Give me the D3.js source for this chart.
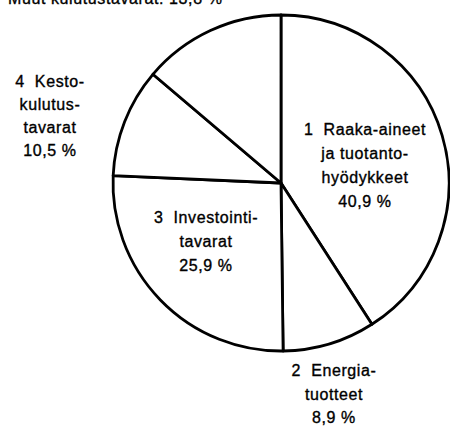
<html>
<script src="https://d3js.org/d3.v7.min.js"></script>
<style>
body{margin:0;background:#fff;}
svg{display:block;}
text{font-family:"Liberation Sans",Arial,sans-serif;font-size:16px;letter-spacing:0.6px;fill:#000;stroke:#000;stroke-width:0.35px;white-space:pre;}
</style>
<body>
<div class="chart"></div>
</body>
<script>
const width = 450;
const height = 426;

// share of each group, clockwise from 12 o'clock
const groups = ['1', '2', '3', '4', '5'];
const shares = [40.9, 8.9, 25.9, 10.5, 13.8];

// label lines for each group
const labelLines = [
  ['1  Raaka-aineet', 'ja tuotanto-', 'hyödykkeet', '40,9 %'],
  ['2  Energia-', 'tuotteet', '8,9 %'],
  ['3  Investointi-', 'tavarat', '25,9 %'],
  ['4  Kesto-', 'kulutus-', 'tavarat', '10,5 %'],
];
const topNote = 'Muut kulutustavarat: 13,8 %';

const cx = 281, cy = 183, radius = 168;

const svg = d3.select('.chart')
  .append('svg')
    .attr('width', width)
    .attr('height', height);

const pie = d3.pie().sort(null).value(d => d.value);
const arc = d3.arc().innerRadius(0).outerRadius(radius);

const slices = pie(groups.map((g, i) => ({group: g, value: shares[i]})));

const g = svg.append('g')
  .attr('transform', `translate(${cx},${cy})`);

g.selectAll('path')
  .data(slices)
  .enter()
  .append('path')
    .attr('d', arc)
    .attr('fill', '#fff')
    .attr('stroke', '#000')
    .attr('stroke-width', 2.8)
    .attr('stroke-linejoin', 'round');

// label placement (centre x, first baseline, line step)
const labelPos = [
  {x: 365, y: 135, step: 24},
  {x: 334, y: 376, step: 23.5},
  {x: 206, y: 223, step: 24},
  {x: 50, y: 87, step: 23},
];

labelLines.forEach((lines, i) => {
  const p = labelPos[i];
  svg.append('text')
    .attr('text-anchor', 'middle')
    .selectAll('tspan')
    .data(lines)
    .enter()
    .append('tspan')
      .attr('x', p.x)
      .attr('y', (d, j) => p.y + j * p.step)
      .text(d => d);
});

svg.append('text')
  .attr('x', 8)
  .attr('y', 4)
  .text(topNote);
</script>
</html>
